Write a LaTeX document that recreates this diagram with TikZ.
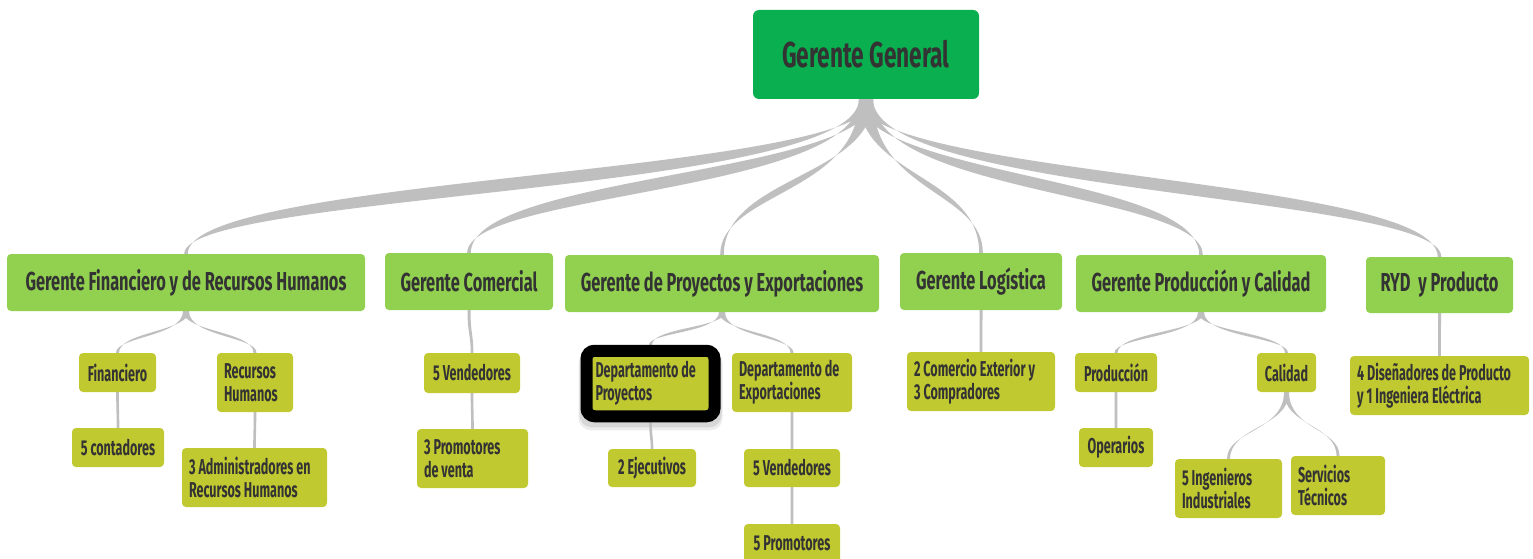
\documentclass[tikz,border=0pt]{standalone}
\usepackage{fontspec}
\setmainfont{Fira Sans}[FakeStretch=0.63]
\newfontfamily\unitfont{Fira Sans}[FakeStretch=0.585]
\usetikzlibrary{calc,backgrounds}

\definecolor{ggreen}{HTML}{0AAF50}
\definecolor{lgreen}{HTML}{92D050}
\definecolor{olivebox}{HTML}{C1C931}
\definecolor{ink}{HTML}{333333}
\definecolor{wire}{HTML}{BFBFBF}

\tikzset{
  basebox/.style={rounded corners=4pt, text=ink, inner sep=0pt},
  gmbox/.style={basebox, fill=ggreen, rounded corners=6pt,
    font=\fontsize{36}{40}\selectfont\bfseries},
  mgrbox/.style={basebox, fill=lgreen,
    font=\fontsize{26}{30}\selectfont\bfseries},
  unitbox/.style={basebox, fill=olivebox,
    font=\unitfont\fontsize{21.5}{23}\selectfont\bfseries},
  dims/.style 2 args={minimum width=#1pt, minimum height=#2pt},
  tw/.style={text width=#1pt, align=flush left},
}

% tapered branch: parent anchor, child anchor, root half width, end half width, bend thickness
\newcommand{\branch}[5]{%
  \fill[wire] let \p1=(#1), \p2=(#2), \n1={0.45*\y1+0.55*\y2}, \n2={#5*sign(\x2-\x1)} in
    ({\x1-#3pt},\y1) .. controls ({\x1-#3pt},{(\n1+\n2)*1pt}) and ({\x2-#4pt},{(\n1+\n2)*1pt}) .. ({\x2-#4pt},\y2)
    -- ({\x2+#4pt},\y2) .. controls ({\x2+#4pt},{(\n1-\n2)*1pt}) and ({\x1+#3pt},{(\n1-\n2)*1pt}) .. ({\x1+#3pt},\y1)
    -- cycle;}

\begin{document}
\begin{tikzpicture}[x=1pt,y=-1pt]
\useasboundingbox (0,0) rectangle (1533,559);

% top
\node[gmbox, dims={226}{89}] (gg) at (866,54.5) {Gerente General};

% managers
\node[mgrbox, dims={358}{57}] (gf) at (186,282.5) {Gerente Financiero y de Recursos Humanos};
\node[mgrbox, dims={168}{57}] (gc) at (469,281.5) {Gerente Comercial};
\node[mgrbox, dims={314}{57}] (gp) at (722,283.5) {Gerente de Proyectos y Exportaciones};
\node[mgrbox, dims={162}{57}] (gl) at (981,281.5) {Gerente Logística};
\node[mgrbox, dims={250}{57}] (gq) at (1201,283.5) {Gerente Producción y Calidad};
\node[mgrbox, dims={147}{56}] (ryd) at (1439.5,285) {RYD\ \ y Producto};

% units
\node[unitbox, dims={77}{39}] (fin) at (117.5,372.5) {Financiero};
\node[unitbox, dims={76}{59}, tw=62] (rh) at (255,382.5) {Recursos\\Humanos};
\node[unitbox, dims={92}{39}] (cont) at (118,447.5) {5 contadores};
\node[unitbox, dims={145}{59}, tw=131] (adm) at (254.5,477.5) {3 Administradores en\\Recursos Humanos};

\node[unitbox, dims={96}{40}] (ven1) at (472,373) {5 Vendedores};
\node[unitbox, dims={111}{59}, tw=97] (pro1) at (472.5,458.5) {3 Promotores\\de venta};

\node[unitbox, draw=black, line width=12pt, rounded corners=8pt, dims={128}{65.5}, tw=110] (dp) at (650.5,383.5) {Departamento de\\Proyectos};
\node[unitbox, dims={120}{59}, tw=106] (dx) at (792,382.5) {Departamento de\\Exportaciones};
\node[unitbox, dims={88}{38}] (ej) at (652,468) {2 Ejecutivos};
\node[unitbox, dims={96}{38}] (ven2) at (792,468) {5 Vendedores};
\node[unitbox, dims={96}{39}] (pro2) at (792,543.5) {5 Promotores};

\node[unitbox, dims={148}{59}, tw=134] (ce) at (981,381.5) {2 Comercio Exterior y\\3 Compradores};

\node[unitbox, dims={82}{39}] (prd) at (1116,372.5) {Producción};
\node[unitbox, dims={59}{39}] (cal) at (1286.5,372.5) {Calidad};
\node[unitbox, dims={74}{39}] (op) at (1116,447.5) {Operarios};
\node[unitbox, dims={107}{59}, tw=93] (ing) at (1228.5,488.5) {5 Ingenieros\\Industriales};
\node[unitbox, dims={94}{59}, tw=80] (ser) at (1338,485.5) {Servicios\\Técnicos};

\node[unitbox, dims={179}{59}, tw=165] (dis) at (1439.5,385.5) {4 Diseñadores de Producto\\y 1 Ingeniera Eléctrica};

\begin{scope}[on background layer]
  \fill[white] (0,0) rectangle (1533,559);

  % soft shadow under the highlighted department
  \fill[black, opacity=0.07, rounded corners=12pt] ($(dp.south west)+(-2,8)$) rectangle ($(dp.north east)+(2,6)$);
  \fill[black, opacity=0.09, rounded corners=12pt] ($(dp.south west)+(-1,5)$) rectangle ($(dp.north east)+(1,6)$);

  % general manager to managers
  \branch{gg.south}{gf.north}{7}{1.8}{9}
  \branch{gg.south}{gc.north}{7}{1.8}{9}
  \branch{gg.south}{gp.north}{7}{1.8}{8}
  \branch{gg.south}{gl.north}{7}{1.8}{8}
  \branch{gg.south}{gq.north}{7}{1.8}{9}
  \branch{gg.south}{ryd.north}{7}{1.8}{9}

  % managers to units
  \branch{gf.south}{fin.north}{3}{1.5}{2.5}
  \branch{gf.south}{rh.north}{3}{1.5}{2.5}
  \branch{fin.south}{cont.north}{1.3}{1.3}{0}
  \branch{rh.south}{adm.north}{1.3}{1.3}{0}

  \branch{gc.south}{ven1.north}{1.5}{1.3}{0}
  \branch{ven1.south}{pro1.north}{1.3}{1.3}{0}

  \branch{gp.south}{dp.north}{3}{1.5}{2.5}
  \branch{gp.south}{dx.north}{3}{1.5}{2.5}
  \branch{dp.south}{ej.north}{1.3}{1.3}{0}
  \branch{dx.south}{ven2.north}{1.3}{1.3}{0}
  \branch{ven2.south}{pro2.north}{1.3}{1.3}{0}

  \branch{gl.south}{ce.north}{1.5}{1.3}{0}

  \branch{gq.south}{prd.north}{3}{1.5}{2.5}
  \branch{gq.south}{cal.north}{3}{1.5}{2.5}
  \branch{prd.south}{op.north}{1.3}{1.3}{0}
  \branch{cal.south}{ing.north}{2.5}{1.5}{2}
  \branch{cal.south}{ser.north}{2.5}{1.5}{2}

  \branch{ryd.south}{dis.north}{1.5}{1.3}{0}
\end{scope}
\end{tikzpicture}
\end{document}
